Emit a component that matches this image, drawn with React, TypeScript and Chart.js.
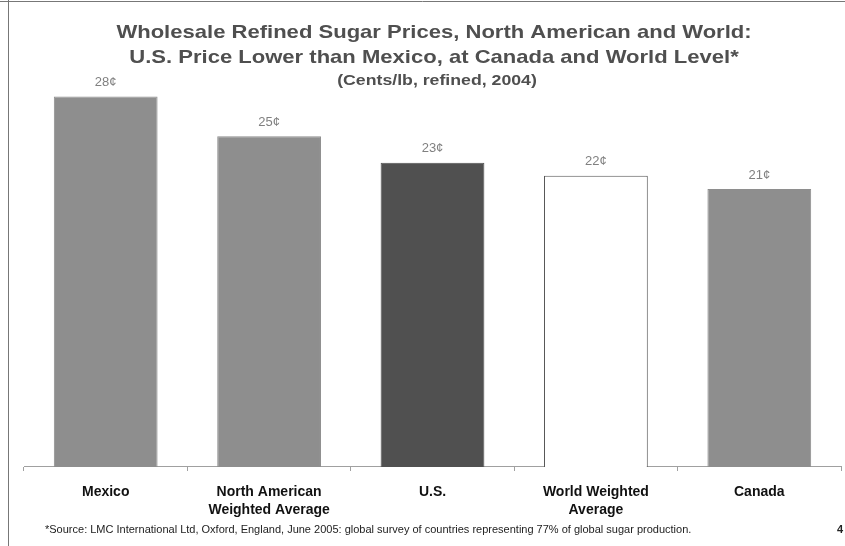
import React, { useEffect, useRef } from "react";
import { Chart, registerables } from "chart.js";

Chart.register(...registerables);

const categories: string[][] = [
  ["Mexico"],
  ["North American", "Weighted Average"],
  ["U.S."],
  ["World Weighted", "Average"],
  ["Canada"],
];
const prices: number[] = [28, 25, 23, 22, 21];
const valueLabels: string[] = ["28¢", "25¢", "23¢", "22¢", "21¢"];
const barColors: string[] = ["#8e8e8e", "#8e8e8e", "#505050", "#ffffff", "#8e8e8e"];
const barBorders: string[] = ["#8e8e8e", "#8e8e8e", "#505050", "#555555", "#8e8e8e"];
const titleLines: string[] = [
  "Wholesale Refined Sugar Prices, North American and World:",
  "U.S. Price Lower than Mexico, at Canada and World Level*",
];
const subtitle = "(Cents/lb, refined, 2004)";
const footnote =
  "*Source: LMC International Ltd, Oxford, England, June 2005: global survey of countries representing 77% of global sugar production.";
const pageNumber = "4";

const FONT = "'Liberation Sans', Arial, sans-serif";

function stretchText(ctx: CanvasRenderingContext2D, text: string, cx: number, cy: number, sx: number) {
  ctx.save();
  ctx.translate(cx, cy);
  ctx.scale(sx, 1);
  ctx.fillText(text, 0, 0);
  ctx.restore();
}

const decorPlugin = {
  id: "decor",
  beforeDraw(chart: any) {
    const { ctx, width, height } = chart;
    ctx.save();
    ctx.fillStyle = "#ffffff";
    ctx.fillRect(0, 0, width, height);
    ctx.strokeStyle = "#777777";
    ctx.lineWidth = 1;
    ctx.beginPath();
    ctx.moveTo(8.5, 0);
    ctx.lineTo(8.5, height);
    ctx.moveTo(0, 1.5);
    ctx.lineTo(width, 1.5);
    ctx.stroke();
    ctx.restore();
  },
  afterDraw(chart: any) {
    const { ctx } = chart;
    ctx.save();
    ctx.textAlign = "center";
    ctx.textBaseline = "middle";
    ctx.fillStyle = "#4f4f4f";
    ctx.font = `bold 19px ${FONT}`;
    stretchText(ctx, titleLines[0], 434, 33, 1.16);
    stretchText(ctx, titleLines[1], 434, 58, 1.16);
    ctx.font = `bold 15px ${FONT}`;
    stretchText(ctx, subtitle, 437, 81, 1.18);

    const meta = chart.getDatasetMeta(0);
    ctx.font = `13px ${FONT}`;
    ctx.fillStyle = "#808080";
    meta.data.forEach((bar: any, i: number) => {
      ctx.fillText(valueLabels[i], bar.x, bar.y - 14);
    });

    ctx.textAlign = "left";
    ctx.fillStyle = "#222222";
    ctx.font = `11px ${FONT}`;
    ctx.fillText(footnote, 45, 530);
    ctx.textAlign = "center";
    ctx.font = `bold 11px ${FONT}`;
    ctx.fillText(pageNumber, 840, 530);
    ctx.restore();
  },
};

export default function App() {
  const ref = useRef<HTMLCanvasElement | null>(null);
  useEffect(() => {
    if (!ref.current) return;
    const chart = new Chart(ref.current, {
      type: "bar",
      data: {
        labels: categories,
        datasets: [
          {
            data: prices,
            backgroundColor: barColors,
            borderColor: barBorders,
            borderWidth: 1,
            categoryPercentage: 0.635,
            barPercentage: 1,
          },
        ],
      },
      options: {
        animation: false,
        responsive: false,
        layout: { padding: { top: 70, left: 24, right: 4, bottom: 15 } },
        plugins: {
          legend: { display: false },
          tooltip: { enabled: false },
          title: { display: false },
        },
        scales: {
          x: {
            offset: true,
            border: { display: true, color: "#a0a0a0", dash: [2, 1] },
            grid: {
              display: true,
              drawOnChartArea: false,
              drawTicks: true,
              tickLength: 4,
              color: "#a0a0a0",
              offset: true,
            },
            ticks: {
              color: "#111111",
              font: { family: FONT, size: 14, weight: "bold", lineHeight: 1.286 },
              padding: 12,
              maxRotation: 0,
              autoSkip: false,
            },
          },
          y: {
            display: false,
            min: 0,
            max: 30,
          },
        },
      },
      plugins: [decorPlugin],
    });
    return () => chart.destroy();
  }, []);
  return (
    <div style={{ position: "fixed", left: 0, top: 0, width: 845, height: 546, background: "#fff" }}>
      <canvas ref={ref} width={845} height={546} style={{ display: "block" }} />
    </div>
  );
}
